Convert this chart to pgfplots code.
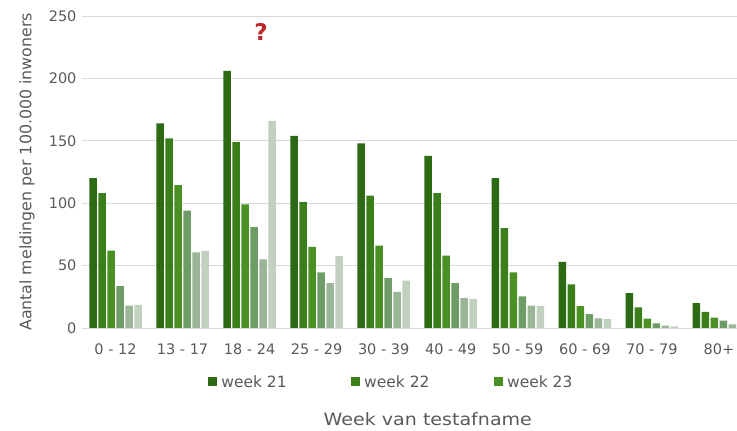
\documentclass[border=0pt]{standalone}
\usepackage{fontspec}
\setmainfont{DejaVu Sans}
\newfontfamily\widefont[FakeStretch=1.12]{DejaVu Sans}
\usepackage{pgfplots}
\pgfplotsset{compat=1.18}
\definecolor{wA}{HTML}{2D6A14}
\definecolor{wB}{HTML}{3A7F1A}
\definecolor{wC}{HTML}{4A9022}
\definecolor{wD}{HTML}{6E9C66}
\definecolor{wE}{HTML}{9AB696}
\definecolor{wF}{HTML}{C2D0C0}
\definecolor{gridgray}{HTML}{D9D9D9}
\definecolor{labelgray}{HTML}{595959}
\definecolor{qred}{HTML}{C0282A}
\begin{document}
\begin{tikzpicture}
\begin{axis}[
  name=ax, at={(82pt,103pt)}, anchor=south west,
  scale only axis, width=655pt, height=312pt,
  ybar=1.5pt, bar width=7.5pt,
  xmin=-0.5, xmax=9.27, ymin=0, ymax=250,
  xtick={0,...,9},
  xticklabels={0 - 12,13 - 17,18 - 24,25 - 29,30 - 39,40 - 49,50 - 59,60 - 69,70 - 79,80+},
  ytick={0,50,...,250},
  ymajorgrids, grid style={draw=gridgray, line width=0.9pt},
  axis line style={draw=none},
  tick style={draw=none},
  /pgf/number format/assume math mode=true,
  yticklabel style={font=\fontsize{14.5}{15}\selectfont, text=labelgray, xshift=-2pt},
  xticklabel style={font=\fontsize{14.5}{15}\selectfont, text=labelgray, yshift=-8pt},
  ylabel={Aantal meldingen per 100.000 inwoners},
  ylabel style={at={(axis description cs:-0.084,0.5)}, anchor=center, font=\fontsize{15.8}{16}\selectfont, text=labelgray},
  xlabel={Week van testafname},
  xlabel style={at={(axis description cs:0.528,-0.292)}, anchor=center, font=\widefont\fontsize{17}{17}\selectfont, text=labelgray},
  legend style={at={(axis description cs:0.472,-0.173)}, anchor=center, draw=none, fill=none,
    legend columns=3, font=\fontsize{15.5}{16}\selectfont, text=labelgray,
    /tikz/every odd column/.append style={column sep=2pt},
    /tikz/every even column/.append style={column sep=62pt}},
  legend image code/.code={\fill[#1,draw=none] (0pt,-4.5pt) rectangle (9.5pt,4.5pt);},
  clip=true,
]
\addplot[fill=wA, draw=none] coordinates {(0,120) (1,164) (2,206) (3,154) (4,148) (5,138) (6,120) (7,53) (8,28) (9,20)};
\addplot[fill=wB, draw=none] coordinates {(0,108) (1,152) (2,149) (3,101) (4,106) (5,108) (6,80) (7,35) (8,16.5) (9,13)};
\addplot[fill=wC, draw=none] coordinates {(0,62) (1,114.5) (2,99) (3,65) (4,66) (5,58) (6,44.5) (7,17.6) (8,7.5) (9,8.3)};
\addplot[fill=wD, draw=none] coordinates {(0,33.5) (1,94) (2,81) (3,44.5) (4,40) (5,36) (6,25.3) (7,11.2) (8,3.7) (9,6)};
\addplot[fill=wE, draw=none] coordinates {(0,18) (1,60.5) (2,55) (3,36) (4,29) (5,24) (6,18) (7,7.7) (8,1.9) (9,3)};
\addplot[fill=wF, draw=none] coordinates {(0,18.6) (1,61.5) (2,166) (3,57.5) (4,38) (5,23.4) (6,17.8) (7,7.2) (8,1.3) (9,3)};
\legend{week 21,week 22,week 23}
\node[text=qred, font=\fontsize{23}{23}\selectfont\bfseries] at (axis cs:2.17,237) {?};
\end{axis}
\pgfresetboundingbox
\path[use as bounding box] (0pt,0pt) rectangle (737pt,431pt);
\end{tikzpicture}
\end{document}
